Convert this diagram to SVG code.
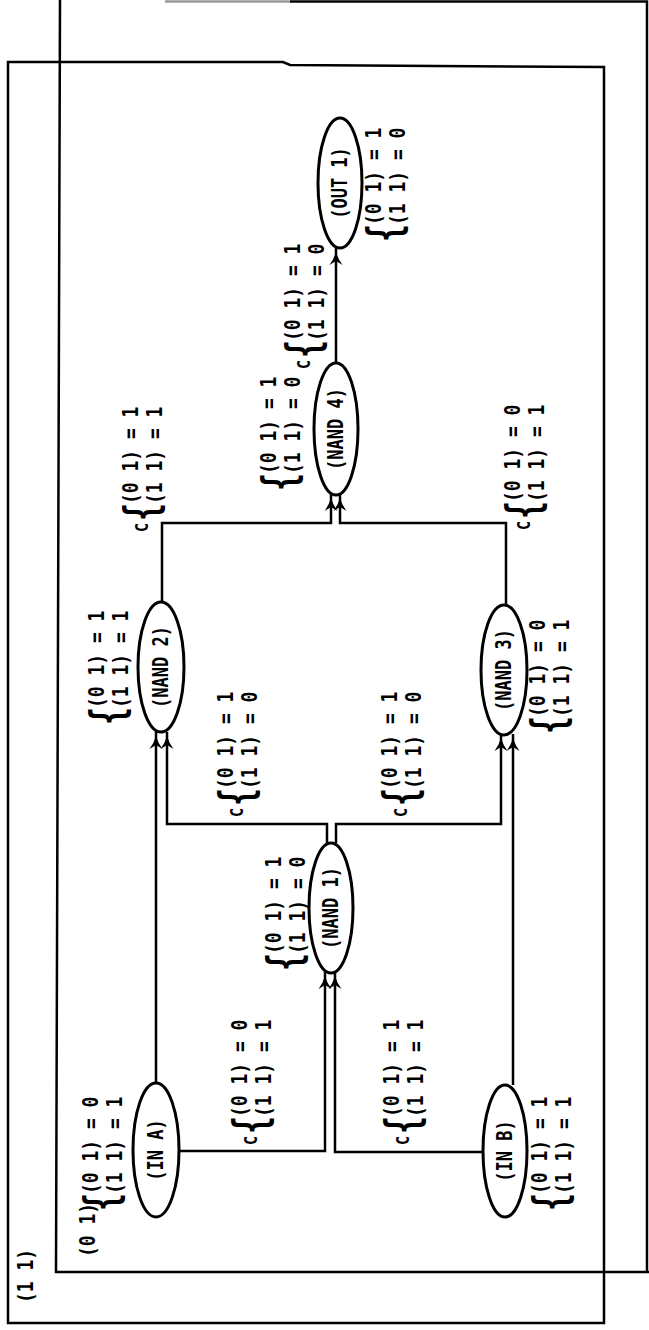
<svg xmlns="http://www.w3.org/2000/svg" width="649" height="1330" viewBox="0 0 649 1330">
<defs>
<style>
.frame{fill:none;stroke:#000;stroke-width:2.5}
.node ellipse{fill:#fff;stroke:#000;stroke-width:3}
.node text{font-family:"DejaVu Sans Mono","Liberation Mono",monospace;font-weight:bold;font-size:17px;text-anchor:middle;fill:#000}
.lbl text{font-family:"DejaVu Sans Mono","Liberation Mono",monospace;font-weight:bold;font-size:18px;fill:#000}
.lbl text.br{font-size:40px}
.lbl text.c{font-size:15px}
.edge{fill:none;stroke:#000;stroke-width:2.5;marker-end:url(#arr)}
</style>
<marker id="arr" markerUnits="userSpaceOnUse" markerWidth="24" markerHeight="18" viewBox="-2 -9 24 18" refX="17" refY="0" orient="auto">
<path d="M0,-6.5 Q6,-2 13,0 Q6,2 0,6.5 L4,0 Z" fill="#000"/>
</marker>
</defs>
<rect width="649" height="1330" fill="#fff"/>
<g id="frames">
<path id="frame-a" class="frame" d="M8,62 L283,62 L290,65 L604,67 L604,1323 L8,1323 Z"/>
<path id="frame-b" class="frame" d="M60,0 L56,1272 L649,1272 M647,1272 L647,1.5 L290,1.5"/>
<path class="frame" d="M290,1.5 L165,1.5" style="stroke:#999"/>
</g>
<g id="connectors">
<path class="edge" d="M156,1083 L156,732"/>
<path class="edge" d="M179,1151 L325,1151 L325,972"/>
<path class="edge" d="M483,1152 L335,1152 L335,972"/>
<path class="edge" d="M513,1085 L513,734"/>
<path class="edge" d="M327,843 L327,824 L167,824 L167,732"/>
<path class="edge" d="M336,843 L336,824 L501,824 L501,734"/>
<path class="edge" d="M162,602 L162,523 L331,523 L331,494"/>
<path class="edge" d="M506,605 L506,523 L340,523 L340,494"/>
<path class="edge" d="M336,363 L336,248"/>
</g>
<g id="node-out1" class="node"><ellipse cx="340" cy="183" rx="22" ry="65"/><text transform="translate(347,183) rotate(-90) scale(1,1.2)">(OUT 1)</text></g>
<g id="node-nand4" class="node"><ellipse cx="336" cy="429" rx="22" ry="66"/><text transform="translate(343,429) rotate(-90) scale(1,1.2)">(NAND 4)</text></g>
<g id="node-nand2" class="node"><ellipse cx="161" cy="667" rx="23" ry="65"/><text transform="translate(168,667) rotate(-90) scale(1,1.2)">(NAND 2)</text></g>
<g id="node-nand3" class="node"><ellipse cx="504" cy="670" rx="23" ry="65"/><text transform="translate(511,670) rotate(-90) scale(1,1.2)">(NAND 3)</text></g>
<g id="node-nand1" class="node"><ellipse cx="331" cy="908" rx="22" ry="65"/><text transform="translate(338,908) rotate(-90) scale(1,1.2)">(NAND 1)</text></g>
<g id="node-ina" class="node"><ellipse cx="156" cy="1150" rx="23" ry="67"/><text transform="translate(163,1150) rotate(-90) scale(1,1.2)">(IN A)</text></g>
<g id="node-inb" class="node"><ellipse cx="505" cy="1151" rx="22" ry="66"/><text transform="translate(512,1151) rotate(-90) scale(1,1.2)">(IN B)</text></g>
<g id="labels">
<g id="lbl-out1" class="lbl" transform="translate(381,225) rotate(-90) scale(1,1.15)"><text class="br" transform="translate(-17,16.5) scale(0.75,1)">{</text><text>(0 1) = 1</text><text y="21">(1 1) = 0</text></g>
<g id="lbl-e-n4-out" class="lbl" transform="translate(300,341) rotate(-90) scale(1,1.15)"><text class="c" x="-28" y="9">C</text><text class="br" transform="translate(-17,16.5) scale(0.75,1)">{</text><text>(0 1) = 1</text><text y="21">(1 1) = 0</text></g>
<g id="lbl-nand4" class="lbl" transform="translate(276,474) rotate(-90) scale(1,1.15)"><text class="br" transform="translate(-17,16.5) scale(0.75,1)">{</text><text>(0 1) = 1</text><text y="21">(1 1) = 0</text></g>
<g id="lbl-e-n2-n4" class="lbl" transform="translate(138,504) rotate(-90) scale(1,1.15)"><text class="c" x="-28" y="9">C</text><text class="br" transform="translate(-17,16.5) scale(0.75,1)">{</text><text>(0 1) = 1</text><text y="21">(1 1) = 1</text></g>
<g id="lbl-e-n3-n4" class="lbl" transform="translate(520,502) rotate(-90) scale(1,1.15)"><text class="c" x="-28" y="9">C</text><text class="br" transform="translate(-17,16.5) scale(0.75,1)">{</text><text>(0 1) = 0</text><text y="21">(1 1) = 1</text></g>
<g id="lbl-nand2" class="lbl" transform="translate(104,708) rotate(-90) scale(1,1.15)"><text class="br" transform="translate(-17,16.5) scale(0.75,1)">{</text><text>(0 1) = 1</text><text y="21">(1 1) = 1</text></g>
<g id="lbl-e-n1-n2" class="lbl" transform="translate(233,789) rotate(-90) scale(1,1.15)"><text class="c" x="-28" y="9">C</text><text class="br" transform="translate(-17,16.5) scale(0.75,1)">{</text><text>(0 1) = 1</text><text y="21">(1 1) = 0</text></g>
<g id="lbl-e-n1-n3" class="lbl" transform="translate(397,789) rotate(-90) scale(1,1.15)"><text class="c" x="-28" y="9">C</text><text class="br" transform="translate(-17,16.5) scale(0.75,1)">{</text><text>(0 1) = 1</text><text y="21">(1 1) = 0</text></g>
<g id="lbl-nand3" class="lbl" transform="translate(545,717) rotate(-90) scale(1,1.15)"><text class="br" transform="translate(-17,16.5) scale(0.75,1)">{</text><text>(0 1) = 0</text><text y="21">(1 1) = 1</text></g>
<g id="lbl-nand1" class="lbl" transform="translate(281,954) rotate(-90) scale(1,1.15)"><text class="br" transform="translate(-17,16.5) scale(0.75,1)">{</text><text>(0 1) = 1</text><text y="21">(1 1) = 0</text></g>
<g id="lbl-e-a-n1" class="lbl" transform="translate(247,1117) rotate(-90) scale(1,1.15)"><text class="c" x="-28" y="9">C</text><text class="br" transform="translate(-17,16.5) scale(0.75,1)">{</text><text>(0 1) = 0</text><text y="21">(1 1) = 1</text></g>
<g id="lbl-e-b-n1" class="lbl" transform="translate(399,1117) rotate(-90) scale(1,1.15)"><text class="c" x="-28" y="9">C</text><text class="br" transform="translate(-17,16.5) scale(0.75,1)">{</text><text>(0 1) = 1</text><text y="21">(1 1) = 1</text></g>
<g id="lbl-ina" class="lbl" transform="translate(98,1194) rotate(-90) scale(1,1.15)"><text class="br" transform="translate(-17,16.5) scale(0.75,1)">{</text><text>(0 1) = 0</text><text y="21">(1 1) = 1</text></g>
<g id="lbl-inb" class="lbl" transform="translate(547,1194) rotate(-90) scale(1,1.15)"><text class="br" transform="translate(-17,16.5) scale(0.75,1)">{</text><text>(0 1) = 1</text><text y="21">(1 1) = 1</text></g>
<g id="lbl-frame-b" class="lbl" transform="translate(95,1257) rotate(-90) scale(1,1.15)"><text>(0 1)</text></g>
<g id="lbl-frame-a" class="lbl" transform="translate(33,1303) rotate(-90) scale(1,1.15)"><text>(1 1)</text></g>
</g>
</svg>
